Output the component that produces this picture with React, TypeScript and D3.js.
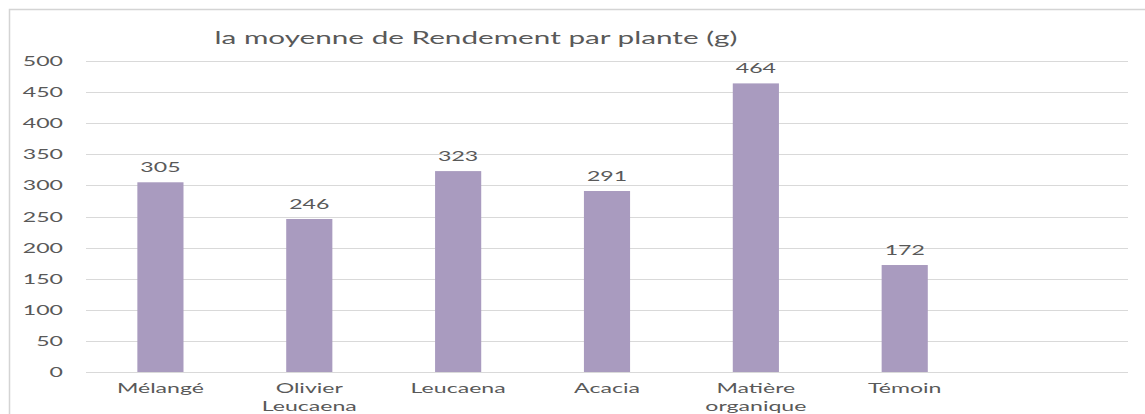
import * as d3 from "d3";
import { useEffect, useRef } from "react";

const categories = ["Mélangé", "Olivier Leucaena", "Leucaena", "Acacia", "Matière organique", "Témoin"];
const values = [305, 246, 323, 291, 464, 172];
const yTicks = [0, 50, 100, 150, 200, 250, 300, 350, 400, 450, 500];
const title = "la moyenne de Rendement par plante (g)";

const W = 1145;
const H = 414;
const margin = { top: 61, bottom: 42, left: 86, right: 17 };
const slots = 7; // excel keeps an empty slot on the right
const stretch = 1.65; // picture is stretched horizontally
const textColor = "#595959";
const font = "Lato, 'DejaVu Sans', sans-serif";

const App = () => {
  const chartRef = useRef<SVGSVGElement>(null);

  useEffect(() => {
    const svg = d3.select(chartRef.current);
    svg.selectAll("*").remove();

    const plotRight = W - margin.right;
    const step = (plotRight - margin.left) / slots;

    const scaleX = d3
      .scaleBand<string>()
      .domain(categories)
      .range([margin.left, margin.left + step * categories.length])
      .paddingInner(0.69)
      .paddingOuter(0.345);

    const scaleY = d3
      .scaleLinear()
      .domain([0, 500])
      .range([H - margin.bottom, margin.top]);

    // chart border
    svg.append("rect")
      .attr("x", 9.5)
      .attr("y", 9.5)
      .attr("width", W + 20)
      .attr("height", H + 20)
      .attr("fill", "#fff")
      .attr("stroke", "#d4d4d4")
      .attr("stroke-width", 1.5);

    // gridlines
    svg.selectAll(".grid")
      .data(yTicks)
      .enter()
      .append("line")
      .attr("class", "grid")
      .attr("x1", margin.left)
      .attr("x2", plotRight)
      .attr("y1", d => Math.round(scaleY(d)) + 0.5)
      .attr("y2", d => Math.round(scaleY(d)) + 0.5)
      .attr("stroke", "#d9d9d9")
      .attr("stroke-width", 1);

    // y tick labels
    svg.selectAll(".ytick")
      .data(yTicks)
      .enter()
      .append("text")
      .attr("class", "ytick")
      .attr("transform", d => `translate(63, ${scaleY(d) + 5}) scale(${stretch},1)`)
      .attr("text-anchor", "end")
      .attr("font-family", font)
      .attr("font-size", 14)
      .attr("fill", textColor)
      .text(d => d);

    // bars
    svg.selectAll(".bar")
      .data(values)
      .enter()
      .append("rect")
      .attr("class", "bar")
      .attr("x", (d, i) => scaleX(categories[i])!)
      .attr("y", d => scaleY(d))
      .attr("width", scaleX.bandwidth())
      .attr("height", d => scaleY(0) - scaleY(d))
      .style("fill", "#a99bbf");

    // value labels
    svg.selectAll(".val")
      .data(values)
      .enter()
      .append("text")
      .attr("class", "val")
      .attr("transform", (d, i) =>
        `translate(${scaleX(categories[i])! + scaleX.bandwidth() / 2}, ${scaleY(d) - 10}) scale(${stretch},1)`)
      .attr("text-anchor", "middle")
      .attr("font-family", font)
      .attr("font-size", 14)
      .attr("fill", textColor)
      .text(d => d);

    // category labels, wrapped on spaces
    categories.forEach(c => {
      const cx = scaleX(c)! + scaleX.bandwidth() / 2;
      c.split(" ").forEach((line, j) => {
        svg.append("text")
          .attr("transform", `translate(${cx}, ${393 + j * 18}) scale(${stretch},1)`)
          .attr("text-anchor", "middle")
          .attr("font-family", font)
          .attr("font-size", 14)
          .attr("fill", textColor)
          .text(line);
      });
    });

    // title
    svg.append("text")
      .attr("transform", `translate(476, 44) scale(${stretch},1)`)
      .attr("text-anchor", "middle")
      .attr("font-family", font)
      .attr("font-size", 18)
      .attr("fill", textColor)
      .text(title);
  }, []);

  return (
    <svg
      ref={chartRef}
      width={W}
      height={H}
      style={{ position: "absolute", left: 0, top: 0, background: "#fff" }}
    ></svg>
  );
};

export default App;
